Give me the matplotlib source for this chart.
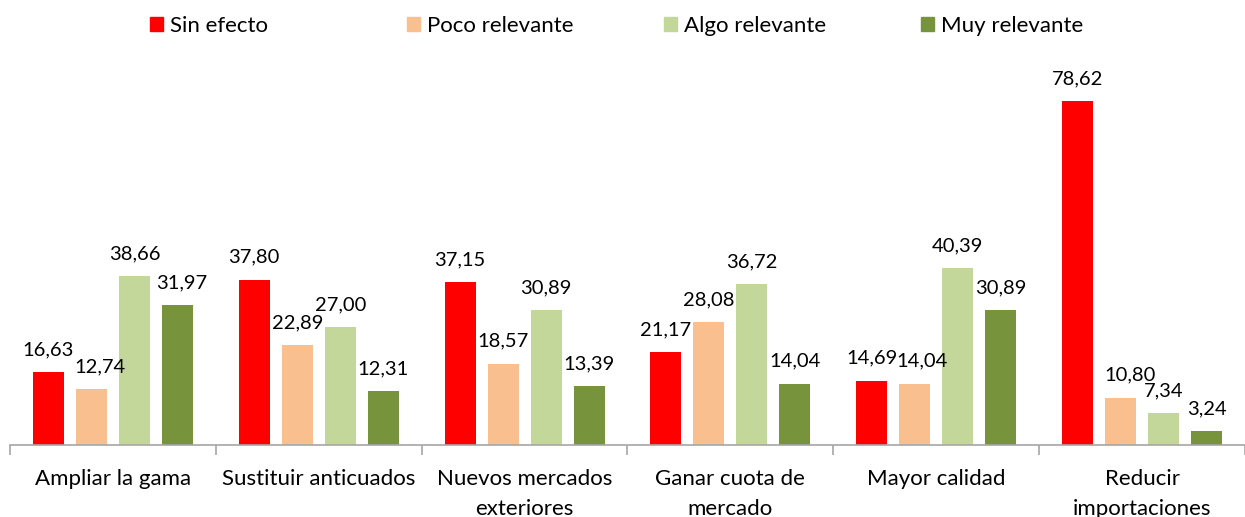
import matplotlib
matplotlib.use("Agg")
import matplotlib.pyplot as plt
import numpy as np
from matplotlib.patches import Patch

categories = ["Ampliar la gama", "Sustituir anticuados", "Nuevos mercados\nexteriores",
              "Ganar cuota de\nmercado", "Mayor calidad", "Reducir\nimportaciones"]
series_names = ["Sin efecto", "Poco relevante", "Algo relevante", "Muy relevante"]
sin_efecto = [16.63, 37.80, 37.15, 21.17, 14.69, 78.62]
poco_relevante = [12.74, 22.89, 18.57, 28.08, 14.04, 10.80]
algo_relevante = [38.66, 27.00, 30.89, 36.72, 40.39, 7.34]
muy_relevante = [31.97, 12.31, 13.39, 14.04, 30.89, 3.24]
colors = ["#FF0000", "#F9BF8F", "#C4D79B", "#77933C"]

plt.rcParams['font.family'] = ['Lato', 'DejaVu Sans']

fig = plt.figure(figsize=(12.45, 5.17), dpi=100)
ax = fig.add_axes([10/1245, 72/517, 1 - 10/1245, (445-60)/517])

# small horizontal nudges (points) for crowded labels: (series, category) -> dx
nudge = {(1, 0): 6, (3, 0): 3, (1, 4): 5, (1, 5): 7}

data = [sin_efecto, poco_relevante, algo_relevante, muy_relevante]
x = np.arange(len(categories))
slot = 43/206
width = 31/206
for i, (vals, c) in enumerate(zip(data, colors)):
    pos = x + (i - 1.5) * slot
    ax.bar(pos, vals, width=width, color=c)
    for j, (p, v) in enumerate(zip(pos, vals)):
        ax.annotate(f"{v:.2f}".replace(".", ","), (p, v), xytext=(nudge.get((i, j), 0), 10),
                    textcoords="offset points", ha="center", va="bottom",
                    fontsize=14.5, color="#000000")

ax.set_xlim(-0.5, len(categories) - 0.5)
ax.set_ylim(0, 88)
for s in ["top", "right", "left"]:
    ax.spines[s].set_visible(False)
ax.spines["bottom"].set_color("#A6A6A6")
ax.spines["bottom"].set_linewidth(1.2)
ax.set_yticks([])
ax.set_xticks(x)
ax.set_xticklabels(categories, fontsize=16, linespacing=1.65)
ax.tick_params(axis="x", which="major", length=0, pad=17)
ax.set_xticks(np.arange(len(categories) + 1) - 0.5, minor=True)
ax.tick_params(axis="x", which="minor", length=7, color="#A6A6A6", width=1.2)

xs = [150, 407, 664, 921]
for name, c, xp in zip(series_names, colors, xs):
    fig.legend(handles=[Patch(color=c)], labels=[name], loc="center left",
               bbox_to_anchor=(xp/1245, 1 - 26/517), frameon=False, fontsize=16,
               handlelength=0.6, handleheight=0.6, handletextpad=0.3,
               borderpad=0, borderaxespad=0)

fig.savefig("out.png", dpi=100)
